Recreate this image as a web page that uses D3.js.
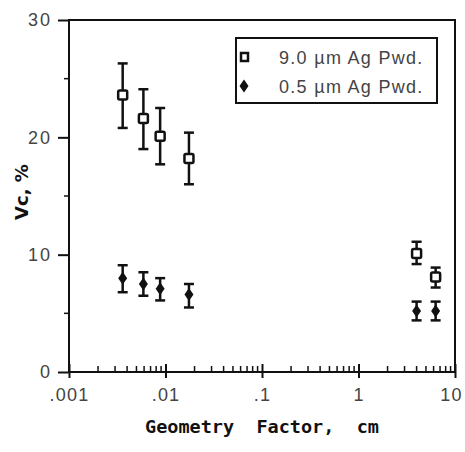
<!DOCTYPE html>
<html><head><meta charset="utf-8">
<script src="https://cdn.jsdelivr.net/npm/d3@7"></script>
<style>body{margin:0;background:#fff}</style>
</head><body>
<script>
// Data
const seriesNames = ["9.0 \u00b5m Ag Pwd.", "0.5 \u00b5m Ag Pwd."];
const geomFactor = [0.0036, 0.0059, 0.0088, 0.0175, 4.0, 6.3];
const vcLarge     = [23.6, 21.6, 20.1, 18.2, 10.1, 8.1];
const vcLargeLow  = [20.8, 19.0, 17.7, 16.0, 9.2, 7.2];
const vcLargeHigh = [26.3, 24.1, 22.5, 20.4, 11.1, 8.9];
const vcSmall     = [8.0, 7.5, 7.1, 6.6, 5.2, 5.2];
const vcSmallLow  = [6.8, 6.5, 6.1, 5.5, 4.4, 4.4];
const vcSmallHigh = [9.1, 8.5, 8.0, 7.5, 6.0, 6.0];
const xTickVals   = [0.001, 0.01, 0.1, 1, 10];
const xTickLabels = [".001", ".01", ".1", "1", "10"];
const yTickVals   = [0, 10, 20, 30];

const W = 465, H = 452;
const svg = d3.select("body").append("svg").attr("width", W).attr("height", H);
const x = d3.scaleLog().domain([0.001, 10]).range([69, 455]);
const y = d3.scaleLinear().domain([0, 30]).range([372, 20]);
const ink = "#111";
const tickFont = "'Liberation Sans', Arial, sans-serif";

// frame
svg.append("rect").attr("x", 69).attr("y", 20).attr("width", 455-69).attr("height", 372-20)
  .attr("fill", "none").attr("stroke", ink).attr("stroke-width", 2);

// x minor ticks
const minor = [];
for (let d = -3; d < 1; d++) for (let k = 2; k <= 9; k++) minor.push(k * Math.pow(10, d));
svg.append("g").selectAll("line").data(minor).join("line")
  .attr("x1", d => x(d)).attr("x2", d => x(d)).attr("y1", 372).attr("y2", 366)
  .attr("stroke", ink).attr("stroke-width", 1.5);
// x major
const xAxis = d3.axisBottom(x).tickValues(xTickVals).tickFormat((d, i) => xTickLabels[i]).tickSize(6).tickPadding(10);
const gx = svg.append("g").attr("transform", "translate(0,372)").call(xAxis);
gx.select(".domain").remove();
gx.selectAll(".tick line").attr("y1", -8).attr("y2", 6).attr("stroke", ink).attr("stroke-width", 2);
gx.selectAll("text").attr("font-family", tickFont).attr("font-size", 18).attr("fill", "#444")
  .attr("letter-spacing", 1.2)
  .attr("dx", (d, i) => i === xTickVals.length - 1 ? -4 : 0);

// y ticks
const yAxis = d3.axisLeft(y).tickValues(yTickVals).tickSize(11).tickPadding(6);
const gy = svg.append("g").attr("transform", "translate(69,0)").call(yAxis);
gy.select(".domain").remove();
gy.selectAll(".tick line").attr("stroke", ink).attr("stroke-width", 2);
gy.selectAll("text").attr("font-family", tickFont).attr("font-size", 18).attr("fill", "#444")
  .attr("letter-spacing", 2);
svg.append("g").selectAll("line").data([5, 15, 25]).join("line")
  .attr("x1", 64).attr("x2", 69).attr("y1", d => y(d)).attr("y2", d => y(d))
  .attr("stroke", ink).attr("stroke-width", 1.5);

// error bars
function errBars(low, high) {
  const g = svg.append("g").attr("stroke", ink).attr("stroke-width", 2.5);
  geomFactor.forEach((gf, i) => {
    const cx = x(gf);
    g.append("line").attr("x1", cx).attr("x2", cx).attr("y1", y(low[i])).attr("y2", y(high[i]));
    g.append("line").attr("x1", cx-5).attr("x2", cx+5).attr("y1", y(low[i])).attr("y2", y(low[i]));
    g.append("line").attr("x1", cx-5).attr("x2", cx+5).attr("y1", y(high[i])).attr("y2", y(high[i]));
  });
}
errBars(vcLargeLow, vcLargeHigh);
errBars(vcSmallLow, vcSmallHigh);

// square markers
svg.append("g").selectAll("rect").data(geomFactor).join("rect")
  .attr("x", d => x(d) - 4.5).attr("y", (d, i) => y(vcLarge[i]) - 4.5)
  .attr("width", 9).attr("height", 9).attr("rx", 1.5)
  .attr("fill", "#fff").attr("stroke", ink).attr("stroke-width", 2.5);
// diamond markers
const diamond = "M0,-6.5L4.5,0L0,6.5L-4.5,0Z";
svg.append("g").selectAll("path").data(geomFactor).join("path")
  .attr("d", diamond)
  .attr("transform", (d, i) => `translate(${x(d)},${y(vcSmall[i])})`)
  .attr("fill", ink);

// legend
const lg = svg.append("g");
lg.append("rect").attr("x", 236).attr("y", 38).attr("width", 201).attr("height", 65)
  .attr("fill", "#fff").attr("stroke", ink).attr("stroke-width", 2);
lg.append("rect").attr("x", 241).attr("y", 53).attr("width", 7).attr("height", 8)
  .attr("fill", "#fff").attr("stroke", ink).attr("stroke-width", 2.5);
lg.append("path").attr("d", diamond).attr("transform", "translate(244,86)").attr("fill", ink);
lg.selectAll("text").data(seriesNames).join("text")
  .attr("x", 279).attr("y", (d, i) => 64 + i * 29)
  .attr("font-family", tickFont).attr("font-size", 18).attr("fill", "#444")
  .attr("letter-spacing", 1.3)
  .text(d => d);

// axis titles
svg.append("text").attr("x", 262).attr("y", 433).attr("text-anchor", "middle")
  .style("white-space", "pre")
  .attr("font-family", "'DejaVu Sans Mono', monospace").attr("font-weight", "bold")
  .attr("font-size", 18.5).attr("fill", ink).text("Geometry  Factor,  cm");
svg.append("text").attr("transform", "translate(28,192) rotate(-90)").attr("text-anchor", "middle")
  .attr("font-family", "'DejaVu Sans', sans-serif").attr("font-weight", "bold")
  .attr("font-size", 18).attr("fill", ink).text("Vc, %");
</script>
</body></html>
